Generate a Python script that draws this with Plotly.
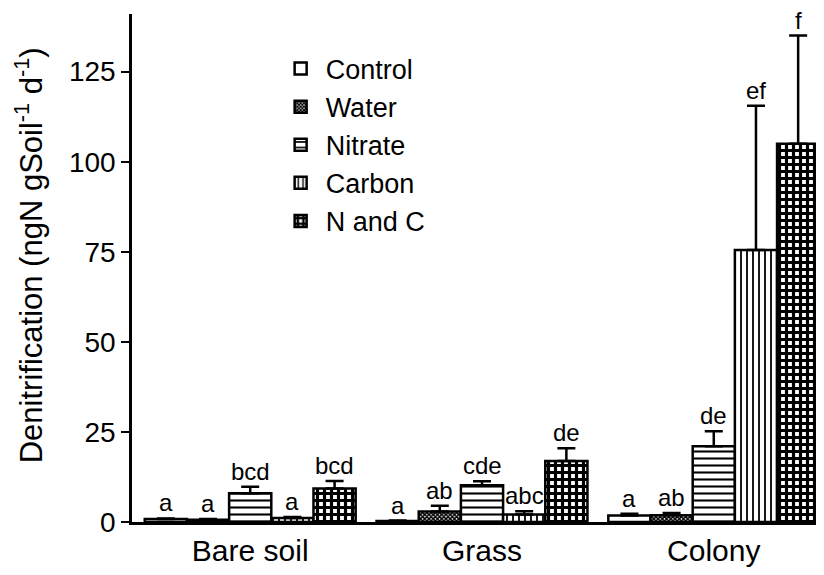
import plotly.graph_objects as go

categories = ["Bare soil", "Grass", "Colony"]
series_names = ["Control", "Water", "Nitrate", "Carbon", "N and C"]
control = [0.8, 0.3, 1.8]
control_err = [0.2, 0.1, 0.5]
water = [0.6, 2.9, 1.9]
water_err = [0.2, 1.6, 0.6]
nitrate = [8.0, 10.2, 21.0]
nitrate_err = [1.8, 1.1, 4.2]
carbon = [1.1, 2.1, 75.5]
carbon_err = [0.3, 0.9, 40.0]
nandc = [9.3, 16.9, 105.0]
nandc_err = [2.1, 3.6, 30.0]
letters = [
    ["a", "a", "a"],
    ["a", "ab", "ab"],
    ["bcd", "cde", "de"],
    ["a", "abc", "ef"],
    ["bcd", "de", "f"],
]
y_ticks = [0, 25, 50, 75, 100, 125]

values = [control, water, nitrate, carbon, nandc]
errors = [control_err, water_err, nitrate_err, carbon_err, nandc_err]

FONT = "Liberation Sans, Arial, Helvetica, sans-serif"

patterns = [
    dict(shape="", bgcolor="white"),
    dict(shape="x", fgcolor="black", bgcolor="white", size=3, solidity=0.75, fillmode="replace"),
    dict(shape="-", fgcolor="black", bgcolor="white", size=7, solidity=0.3, fillmode="replace"),
    dict(shape="|", fgcolor="black", bgcolor="white", size=6, solidity=0.3, fillmode="replace"),
    dict(shape="+", fgcolor="black", bgcolor="white", size=7, solidity=0.7, fillmode="replace"),
]

bargap = 0.09
n = len(series_names)
bw = (1 - bargap) / n

fig = go.Figure()
for i, name in enumerate(series_names):
    fig.add_trace(go.Bar(
        name=name,
        x=list(range(len(categories))),
        y=values[i],
        marker=dict(color="white", line=dict(color="black", width=2.5), pattern=patterns[i]),
        error_y=dict(type="data", symmetric=False, array=errors[i],
                     arrayminus=[0] * len(categories),
                     color="black", thickness=2.5, width=9),
    ))

annotations = []
for i in range(n):
    for g in range(len(categories)):
        annotations.append(dict(
            x=g + (i - (n - 1) / 2) * bw, y=values[i][g] + errors[i][g],
            xref="x", yref="y", text=letters[i][g], showarrow=False,
            yanchor="bottom", yshift=1, borderpad=0,
            font=dict(family=FONT, size=24, color="black"),
        ))

annotations.append(dict(
    x=-0.1506, y=0.525, xref="paper", yref="paper",
    xanchor="center", yanchor="middle",
    text="Denitrification (ngN gSoil<sup>-1</sup> d<sup>-1</sup>)",
    textangle=-90, showarrow=False,
    font=dict(family=FONT, size=31, color="black"),
))

fig.update_layout(
    width=808, height=559,
    margin=dict(l=124, r=0, t=6, b=45, autoexpand=False),
    paper_bgcolor="white", plot_bgcolor="white",
    barmode="group", bargap=bargap, bargroupgap=0,
    font=dict(family=FONT, color="black"),
    showlegend=True,
    legend=dict(x=0.21, y=0.94, xanchor="left", yanchor="top",
                font=dict(family=FONT, size=27), bgcolor="rgba(0,0,0,0)",
                itemwidth=40, tracegroupgap=0),
    annotations=annotations,
)
fig.update_xaxes(
    range=[-0.51, 2.441],
    tickmode="array", tickvals=list(range(len(categories))), ticktext=categories,
    showline=True, linecolor="black", linewidth=2.5,
    ticks="", tickfont=dict(family=FONT, size=30, color="black"),
    showgrid=False, zeroline=False, automargin=False,
)
fig.update_yaxes(
    range=[0, 141],
    tickmode="array", tickvals=y_ticks,
    showline=True, linecolor="black", linewidth=2.5,
    ticks="outside", ticklen=8, tickwidth=2, tickcolor="black",
    tickfont=dict(family=FONT, size=28, color="black"),
    showgrid=False, zeroline=False, automargin=False,
)

fig.write_html("out.html")
